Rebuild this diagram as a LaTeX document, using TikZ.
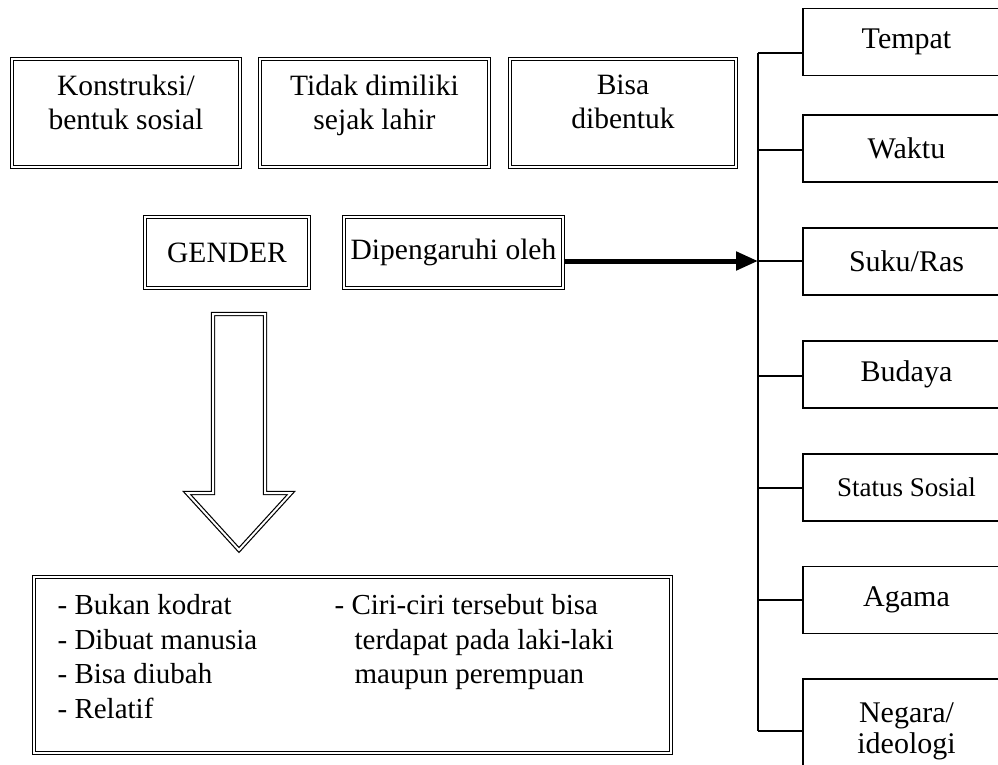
\documentclass[tikz,border=0pt]{standalone}
\usepackage{fontspec}
\setmainfont{Liberation Serif}
\usetikzlibrary{arrows.meta}

\begin{document}
\begin{tikzpicture}[x=1pt,y=-1pt,
  dbox/.style={draw, double, double distance=2pt, line width=1.2pt,
    align=center, inner sep=0pt, font=\fontsize{29.5}{34}\selectfont},
  sbox/.style={draw, line width=1.3pt, align=center, inner sep=0pt,
    minimum width=207pt, minimum height=67pt, font=\fontsize{30}{31}\selectfont},
  link/.style={line width=1.3pt}]
  \useasboundingbox (0,0) rectangle (998,765);
  \clip (0,0) rectangle (998,765);

  \node[dbox, minimum width=228pt, minimum height=108pt, text depth=22pt] (konstruksi) at (126,113) {Konstruksi/\\bentuk sosial};
  \node[dbox, minimum width=229pt, minimum height=108pt, text depth=22pt] (tidak) at (374.5,113) {Tidak dimiliki\\sejak lahir};
  \node[dbox, minimum width=226pt, minimum height=108pt, text depth=22pt] (bisa) at (623,113) {Bisa\\dibentuk};
  \node[dbox, minimum width=164pt, minimum height=71pt] (gender) at (227,252.5) {GENDER};
  \node[dbox, minimum width=219pt, minimum height=71pt] (pengaruh) at (453.5,252.5) {Dipengaruhi oleh};

  \node[sbox] (tempat) at (906.5,42) {Tempat};
  \node[sbox] (waktu) at (906.5,148.5) {Waktu};
  \node[sbox] (suku) at (906.5,261.5) {Suku/Ras};
  \node[sbox] (budaya) at (906.5,374.5) {Budaya};
  \node[sbox, font=\fontsize{27}{30}\selectfont] (status) at (906.5,487.5) {Status Sosial};
  \node[sbox] (agama) at (906.5,600) {Agama};
  \node[sbox, minimum height=104pt] (negara) at (906.5,731) {Negara/\\ideologi};

  \coordinate (atas) at (758,53);
  \coordinate (bawah) at (758,731);
  \coordinate (masuk) at (758,261);
  \draw[link] (atas) -- (bawah);
  \draw[link] (atas) -- (atas -| tempat.west);
  \draw[link] (758,150) -- (758,150 -| waktu.west);
  \draw[link] (masuk) -- (suku.west |- masuk);
  \draw[link] (758,376) -- (758,376 -| budaya.west);
  \draw[link] (758,488) -- (758,488 -| status.west);
  \draw[link] (758,600) -- (agama.west);
  \draw[link] (bawah) -- (negara.west);

  \draw[line width=5pt, -{Triangle[length=22pt,width=18pt]}] (pengaruh.east |- masuk) -- (masuk);

  \draw[double, double distance=2pt, line width=1.2pt]
    (213,314) -- (265,314) -- (265,493) -- (291,493) -- (239,550)
    -- (187,493) -- (213,493) -- cycle;

  \node[dbox, minimum width=637pt, minimum height=176pt] (ciri) at (352.5,665) {};
  \node[anchor=north west, inner sep=0pt, align=left,
    font=\fontsize{29}{34.5}\selectfont] (ciriteks)
    at ([xshift=24pt,yshift=-18pt]ciri.north west) {%
      \makebox[277pt][l]{- Bukan kodrat}- Ciri-ciri tersebut bisa\\
      \makebox[277pt][l]{- Dibuat manusia}\hspace*{20pt}terdapat pada laki-laki\\
      \makebox[277pt][l]{- Bisa diubah}\hspace*{20pt}maupun perempuan\\
      - Relatif};
\end{tikzpicture}
\end{document}
